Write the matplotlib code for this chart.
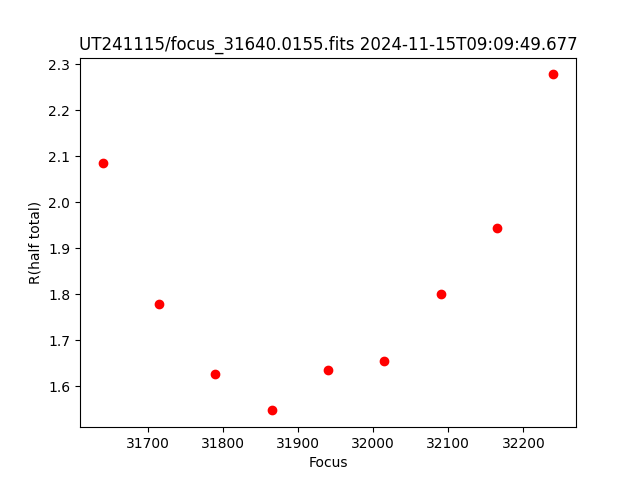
import matplotlib
matplotlib.use('Agg')
import matplotlib.pyplot as plt

focus = [31640, 31715, 31790, 31865, 31940, 32015, 32090, 32165, 32240]
r_half = [2.085, 1.779, 1.626, 1.547, 1.634, 1.655, 1.800, 1.944, 2.278]

fig = plt.figure(figsize=(6.4, 4.8), dpi=100)
plt.plot(focus, r_half, 'ro')
plt.xlabel('Focus')
plt.ylabel('R(half total)')
plt.title('UT241115/focus_31640.0155.fits 2024-11-15T09:09:49.677')
plt.savefig('out.png')
